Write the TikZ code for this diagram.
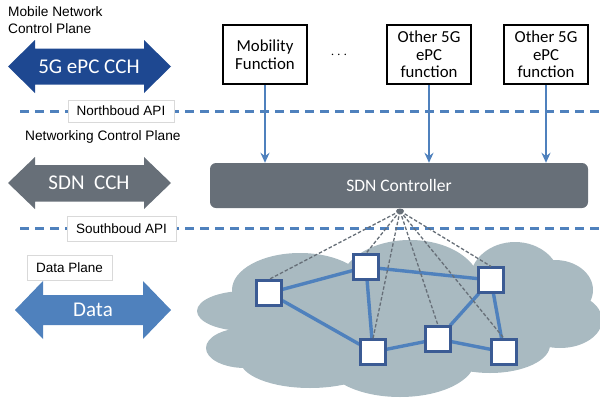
\documentclass[tikz,border=0pt]{standalone}
\usepackage{fontspec}
\setmainfont{Liberation Sans}
\newfontfamily\calib{Carlito}
\usetikzlibrary{arrows.meta}
\definecolor{dkblue}{RGB}{30,72,145}
\definecolor{slate}{RGB}{103,111,120}
\definecolor{midblue}{RGB}{79,129,189}
\definecolor{cloudc}{RGB}{169,186,193}
\definecolor{sqborder}{RGB}{59,91,148}
\definecolor{lbgray}{RGB}{217,217,217}
\tikzset{
  lbl/.style={font=\fontsize{13.7}{16.5}\selectfont, align=left, inner sep=0pt, anchor=west},
  apibox/.style={draw=lbgray, fill=white, line width=0.6pt, font=\fontsize{13.5}{15}\selectfont, inner sep=0pt, minimum height=22pt},
  funcbox/.style={draw=black, fill=white, line width=1.8pt, minimum width=84pt, minimum height=59pt, font=\calib\fontsize{16.8}{17.5}\selectfont, align=center, inner sep=1pt},
  arrtxt/.style={text=white, font=\calib\fontsize{21}{23}\selectfont},
  apiline/.style={midblue, line width=3pt, dash pattern=on 9pt off 6pt},
  conn/.style={midblue, line width=2.8pt, -{Stealth[length=10pt,width=9pt]}},
  sw/.style={draw=sqborder, fill=white, line width=2.2pt, minimum size=25pt, inner sep=0pt},
  link/.style={midblue, line width=3.4pt},
  ctl/.style={draw=slate, line width=1.3pt, dash pattern=on 3.5pt off 2pt},
}
\begin{document}
\begin{tikzpicture}[x=1pt,y=-1pt]
\useasboundingbox (0,0) rectangle (600,399);
% labels
\node[lbl] (mncp) at (8,20) {Mobile Network\\Control Plane};
\node[lbl] (ncp) at (25,137) {Networking Control Plane};
% big arrows
\fill[dkblue] (8,66.5) -- (35,40) -- (35,48.5) -- (144,48.5) -- (144,40) -- (171,66.5) -- (144,93) -- (144,84.5) -- (35,84.5) -- (35,93) -- cycle;
\node[arrtxt] (a1) at (89,66.5) {5G ePC CCH};
\fill[slate] (8,183) -- (35,157) -- (35,165) -- (144,165) -- (144,157) -- (171,183) -- (144,209) -- (144,201.5) -- (35,201.5) -- (35,209) -- cycle;
\node[arrtxt] (a2) at (89,183) {SDN\ \ CCH};
\fill[midblue] (15,310) -- (43,281) -- (43,295) -- (143,295) -- (143,281) -- (171,310) -- (143,339) -- (143,325) -- (43,325) -- (43,339) -- cycle;
\node[arrtxt] (a3) at (93,310) {Data};
% cloud
\begin{scope}[fill=cloudc]
\fill (300,290) ellipse [x radius=68, y radius=37];
\fill (410,285) ellipse [x radius=70, y radius=45];
\fill (515,280) ellipse [x radius=45, y radius=38];
\fill (555,290) ellipse [x radius=38, y radius=30];
\fill (560,320) ellipse [x radius=42, y radius=28];
\fill (245,311) ellipse [x radius=48, y radius=20];
\fill (245,348) ellipse [x radius=39, y radius=20];
\fill (310,360) ellipse [x radius=70, y radius=28];
\fill (400,360) ellipse [x radius=75, y radius=37];
\fill (490,345) ellipse [x radius=60, y radius=28];
\fill (400,315) ellipse [x radius=150, y radius=50];
\end{scope}
% dashed API lines
\coordinate (nbL) at (20,111);
\coordinate (nbR) at (600,111);
\coordinate (sbL) at (20,228);
\coordinate (sbR) at (600,228);
\draw[apiline] (nbL) -- (nbR);
\draw[apiline] (sbL) -- (sbR);
\node[apibox, minimum width=106pt] (nb) at (121,111) {Northboud API};
\node[apibox, minimum width=109pt, minimum height=25pt] (sb) at (121.5,228.5) {Southboud API};
\node[apibox, minimum width=85pt, minimum height=25pt] (dp) at (69.5,267.5) {Data Plane};
% function boxes
\node[funcbox] (mob) at (265,54.5) {Mobility\\Function};
\node (dots) at (339,55) {\calib\fontsize{14}{16}\selectfont$\cdots$};
\node[funcbox] (o1) at (429,54.5) {Other 5G\\ePC\\function};
\node[funcbox] (o2) at (546,54.5) {Other 5G\\ePC\\function};
% SDN controller
\node[fill=slate, rounded corners=6pt, minimum width=378pt, minimum height=45pt, inner sep=0pt, text=white, font=\calib\fontsize{17.5}{19}\selectfont] (sdn) at (399,185.5) {SDN Controller};
\draw[conn] (mob.south) -- (mob.south |- sdn.north);
\draw[conn] (o1.south) -- (o1.south |- sdn.north);
\draw[conn] (o2.south) -- (o2.south |- sdn.north);
% switches
\node[sw] (n1) at (269,293) {};
\node[sw] (n2) at (366,267) {};
\node[sw] (n3) at (491,280) {};
\node[sw] (n4) at (373,352) {};
\node[sw] (n5) at (438,339) {};
\node[sw] (n6) at (504,352) {};
\coordinate (fp) at (400,211);
\draw[link] (n1) -- (n2);
\draw[link] (n1) -- (n4);
\draw[link] (n2) -- (n3);
\draw[link] (n2) -- (n4);
\draw[link] (n4) -- (n5);
\draw[link] (n5) -- (n3);
\draw[link] (n5) -- (n6);
\draw[link] (n3) -- (n6);
\foreach \n in {n1,n2,n3,n4,n5,n6} \node[sw] at (\n) {};
\foreach \n in {n1,n2,n3,n4,n5,n6} \draw[ctl] (fp) -- (\n.north);
\fill[slate] (fp) ellipse [x radius=4, y radius=2.5];
\end{tikzpicture}
\end{document}
